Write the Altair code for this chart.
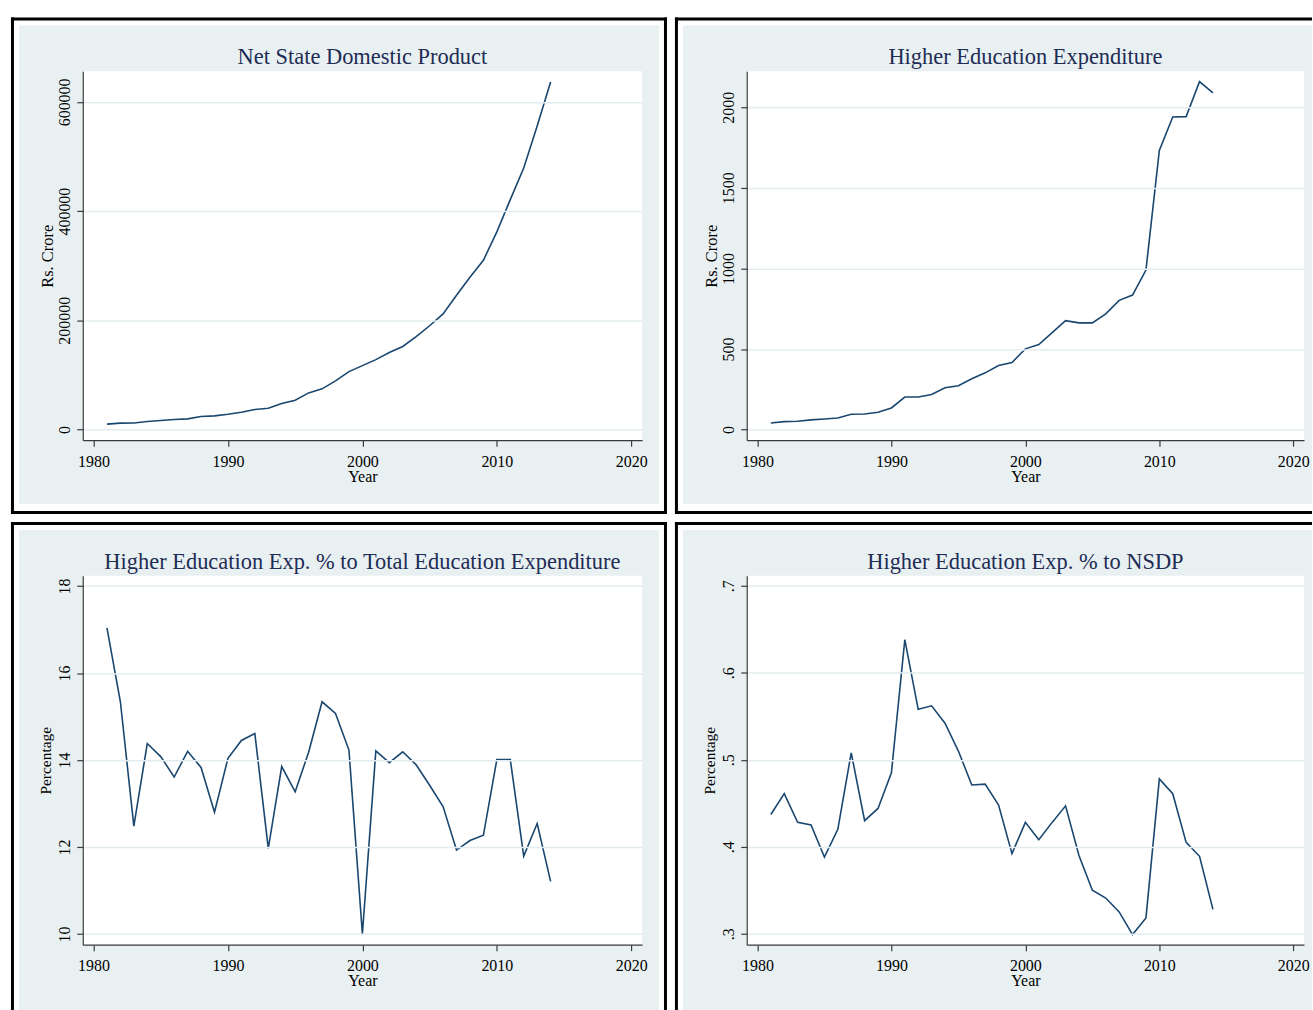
import altair as alt
import pandas as pd

# ---- data -------------------------------------------------------------
years = list(range(1981, 2015))

# Net State Domestic Product (Rs. Crore)
nsdp = [9800, 11600, 12000, 14600, 16500, 18300, 19500, 23800, 25000, 28000,
        31700, 36600, 39000, 47600, 53700, 67000, 74400, 89000, 106000, 117000,
        128000, 141000, 152000, 170000, 190000, 211600, 246000, 279000, 310000, 362000,
        421000, 479000, 556000, 636600]

# Higher education expenditure (Rs. Crore)
he_exp = [41, 49, 52, 60, 66, 72, 95, 97, 107, 134,
          202, 202, 218, 260, 272, 315, 352, 398, 416, 501,
          528, 602, 676, 662, 662, 718, 802, 835, 990, 1732,
          1940, 1942, 2159, 2089]

# Higher education expenditure as % of total education expenditure
he_pct_total = [17.04, 15.34, 12.48, 14.38, 14.08, 13.61, 14.20, 13.83, 12.80, 14.04,
                14.45, 14.61, 11.97, 13.85, 13.27, 14.18, 15.34, 15.07, 14.23, 10.00,
                14.21, 13.94, 14.19, 13.89, 13.42, 12.93, 11.93, 12.15, 12.27, 14.01,
                14.01, 11.79, 12.54, 11.21]

# Higher education expenditure as % of NSDP
he_pct_nsdp = [0.437, 0.461, 0.428, 0.425, 0.388, 0.420, 0.508, 0.430, 0.444, 0.485,
               0.638, 0.558, 0.562, 0.542, 0.510, 0.471, 0.472, 0.448, 0.392, 0.428,
               0.408, 0.428, 0.447, 0.390, 0.350, 0.341, 0.325, 0.299, 0.318, 0.478,
               0.461, 0.405, 0.389, 0.328]

year_ticks = [1980, 1990, 2000, 2010, 2020]

# ---- style ------------------------------------------------------------
FONT = "Liberation Serif"
REGION = "#E8F0F2"
LINE = "#1A476F"
TITLE_C = "#1F2C55"
GRID = "#E3ECEF"
AXIS_C = "#3A3A3A"
BORDER = 3

one = pd.DataFrame({"k": [0]})


def box(x, x2, y, y2, color):
    return alt.Chart(one).mark_rect(fill=color).encode(
        x=alt.value(x), x2=alt.value(x2), y=alt.value(y), y2=alt.value(y2))


def panel(values, title, ytitle, ytitle_size, ydomain, yticks, ytitle_x,
          W, H, open_right=False, open_bottom=False, label_expr=None):
    df = pd.DataFrame({"Year": years, "value": values})

    # outer frame (outer edges), relative to the plot area
    L, T = -72, -54
    R = W + 8 if open_right else W + 25
    B = H + 67 if open_bottom else H + 74

    layers = [box(L, R, T, B, "white"),
              box(L, R, T, T + BORDER, "black"),
              box(L, L + BORDER, T, B, "black")]
    if not open_right:
        layers.append(box(R - BORDER, R, T, B, "black"))
    if not open_bottom:
        layers.append(box(L, R, B - BORDER, B, "black"))

    # graph region and plot region
    reg_r = R if open_right else W + 17
    reg_b = B if open_bottom else H + 64
    layers.append(box(-64, reg_r, -46, reg_b, REGION))
    layers.append(box(0, W, 0, H, "white"))

    heading = alt.Chart(one).mark_text(
        text=title, font=FONT, fontSize=22.5, color=TITLE_C,
        align="center", baseline="alphabetic").encode(
        x=alt.value(W / 2), y=alt.value(-7))

    x_axis = alt.Axis(
        values=year_ticks, format="d", title="Year",
        titleY=41, titleBaseline="alphabetic", titleFont=FONT, titleFontSize=16,
        titleFontWeight="normal", titleColor="black",
        labelFont=FONT, labelFontSize=16, labelColor="black", labelPadding=7,
        labelFlush=False, labelOverlap=False,
        tickSize=6, tickColor=AXIS_C, tickWidth=1.2,
        domainColor=AXIS_C, domainWidth=1.2, grid=False, zindex=1)

    y_kw = dict(
        values=yticks, title=ytitle, grid=True, gridColor=GRID, gridWidth=1.5,
        labelAngle=270, labelAlign="center", labelBaseline="alphabetic",
        labelPadding=7, labelFont=FONT, labelFontSize=16, labelColor="black",
        labelFlush=False, labelOverlap=False,
        tickSize=6, tickColor=AXIS_C, tickWidth=1.2,
        domainColor=AXIS_C, domainWidth=1.2,
        titleAngle=270, titleX=ytitle_x, titleY=H / 2, titleAlign="center",
        titleBaseline="alphabetic", titleFont=FONT, titleFontSize=ytitle_size,
        titleFontWeight="normal", titleColor="black", zindex=1)
    if label_expr:
        y_kw["labelExpr"] = label_expr
    else:
        y_kw["format"] = "d"

    line = alt.Chart(df).mark_line(color=LINE, strokeWidth=1.6).encode(
        x=alt.X("Year:Q",
                scale=alt.Scale(domain=[1979.2, 2020.8], nice=False, zero=False),
                axis=x_axis),
        y=alt.Y("value:Q",
                scale=alt.Scale(domain=ydomain, nice=False, zero=False),
                axis=alt.Axis(**y_kw)))

    layers += [line, heading]
    return alt.layer(*layers).properties(width=W, height=H)


p1 = panel(nsdp, "Net State Domestic Product", "Rs. Crore", 16.5,
           [-19600, 656000], [0, 200000, 400000, 600000], -30.5, 561, 370)
p2 = panel(he_exp, "Higher Education Expenditure", "Rs. Crore", 16.5,
           [-66, 2223], [0, 500, 1000, 1500, 2000], -30.5, 559, 370,
           open_right=True)
p3 = panel(he_pct_total, "Higher Education Exp. % to Total Education Expenditure",
           "Percentage", 15.5, [9.755, 18.237], [10, 12, 14, 16, 18], -32.5,
           561, 370, open_bottom=True)
p4 = panel(he_pct_nsdp, "Higher Education Exp. % to NSDP", "Percentage", 15.5,
           [0.2874, 0.7115], [0.3, 0.4, 0.5, 0.6, 0.7], -32.5, 559, 370,
           open_right=True, open_bottom=True,
           label_expr="substring(format(datum.value, '.1f'), 1)")

chart = alt.vconcat(
    alt.hconcat(p1, p2, spacing=6),
    alt.hconcat(p3, p4, spacing=6),
    spacing=6,
).properties(
    padding={"left": 10, "top": 15, "right": 0, "bottom": 0},
    background="white",
).configure_view(stroke="transparent")

chart.save("out.html", embed_options={"renderer": "svg", "actions": False})
